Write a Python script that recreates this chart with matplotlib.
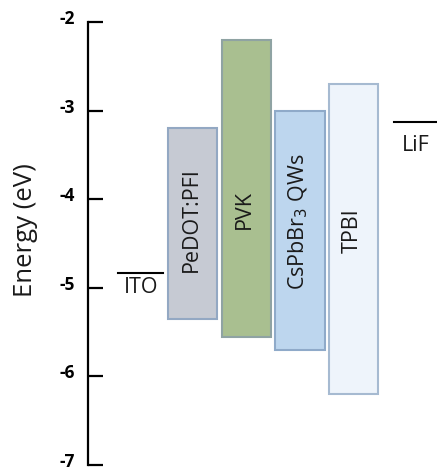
import matplotlib
matplotlib.use("Agg")
import matplotlib.pyplot as plt
from matplotlib.patches import Rectangle
from matplotlib.transforms import ScaledTranslation

# energy levels (eV)
layers = ["PeDOT:PFI", "PVK", r"CsPbBr$_3$ QWs", "TPBI"]
lumo = [-3.2, -2.2, -3.0, -2.7]
homo = [-5.35, -5.55, -5.7, -6.2]
label_y = [-4.23, -4.12, -4.26, -4.36]
fills = ["#c6cad3", "#a9bf90", "#bdd6ee", "#eef4fb"]
edges = ["#93a8c3", "#8fa3a3", "#8faac9", "#a6bad1"]

electrodes = ["ITO", "LiF"]
work_fn = [-4.83, -3.13]

plt.rcParams['font.family'] = ['Open Sans', 'DejaVu Sans']

fig = plt.figure(figsize=(4.37, 4.71), dpi=100)
ax = fig.add_axes([0.201, 0.0127, 0.799, 0.9406])

xpos = [1.96, 2.96, 3.96, 4.96]
width = 0.92
for x, top, bot, lab, ly, fc, ec in zip(xpos, lumo, homo, layers, label_y, fills, edges):
    ax.add_patch(Rectangle((x - width / 2, bot), width, top - bot,
                           facecolor=fc, edgecolor=ec, linewidth=1.5))
    ax.text(x - 0.03, ly, lab, rotation=90, ha="center", va="center",
            fontsize=15.5, color="#1a1a1a")

# electrode levels
ex = [(0.56, 1.40), (5.72, 6.6)]
text_x = [1.0, 6.12]
gap = [0.05, 0.14]
for (x0, x1), e, lab, tx, g in zip(ex, work_fn, electrodes, text_x, gap):
    ax.plot([x0, x1], [e, e], color="black", lw=1.5, clip_on=False)
    ax.text(tx, e - g, lab, ha="center", va="top", fontsize=15.5, color="#1a1a1a")

ax.set_xlim(0, 6.52)
ax.set_ylim(-7, -2)
ax.set_yticks([-2, -3, -4, -5, -6, -7])
ax.set_yticklabels(["-2", "-3", "-4", "-5", "-6", "-7"], fontweight="bold", fontsize=12.5)
ax.tick_params(axis="y", direction="in", length=11, width=1.6, pad=9)
shift = ScaledTranslation(0, 0.05, fig.dpi_scale_trans)
for t in ax.get_yticklabels():
    t.set_transform(t.get_transform() + shift)
ax.set_xticks([])
for s in ["top", "right", "bottom"]:
    ax.spines[s].set_visible(False)
ax.spines["left"].set_linewidth(1.6)
ax.set_ylabel("Energy (eV)", fontsize=18.5, color="#1a1a1a")
ax.yaxis.set_label_coords(-0.143, 0.531)

fig.savefig("out.png", dpi=100)
